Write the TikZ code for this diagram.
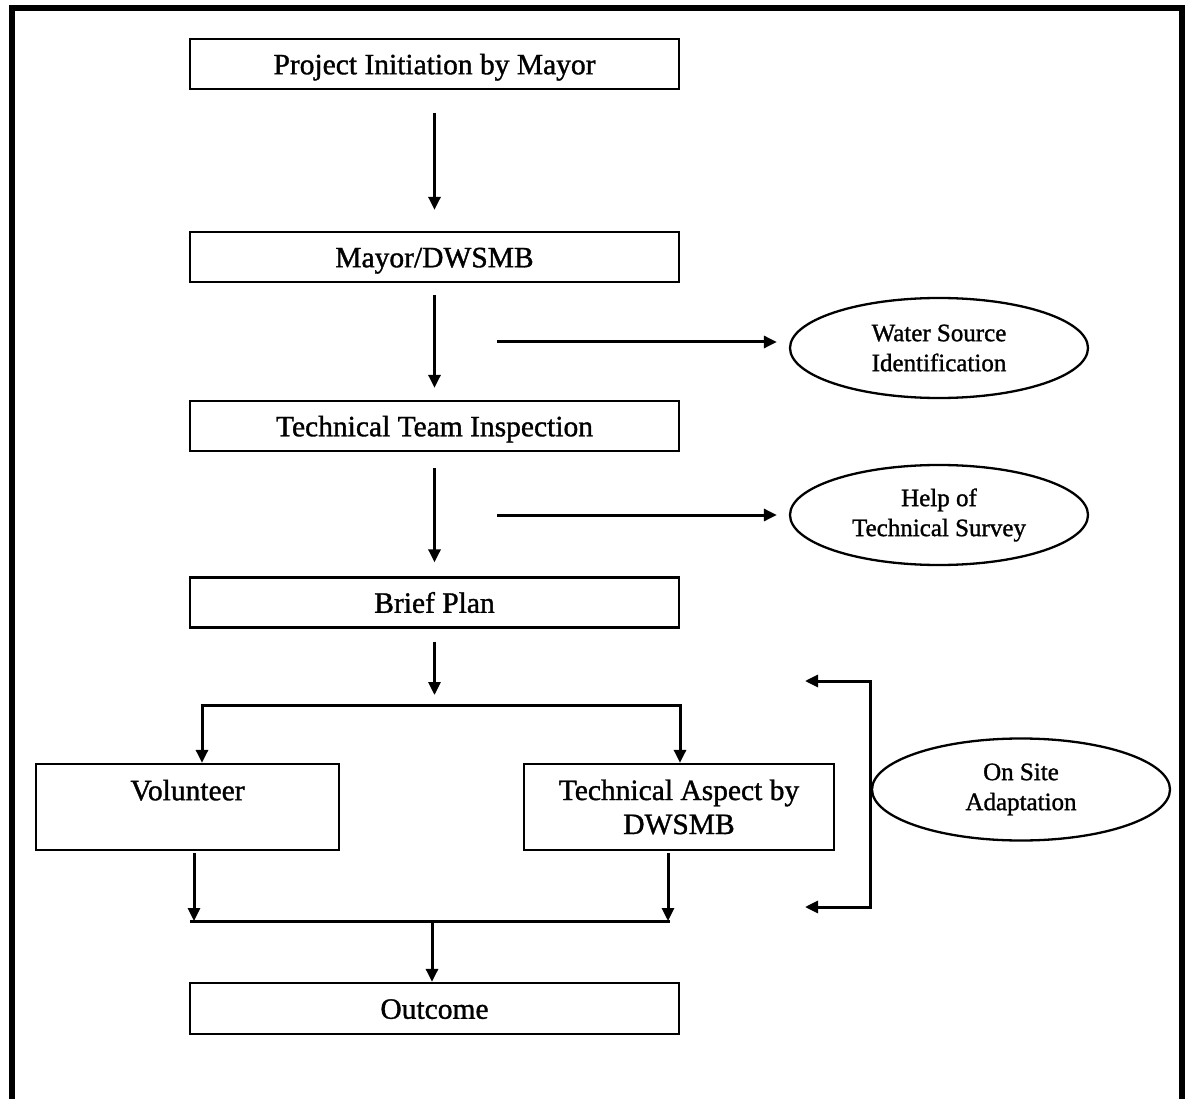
\documentclass[tikz,border=0pt]{standalone}
\usepackage{fontspec}
\setmainfont{Liberation Serif}[FakeBold=1.2]
\usetikzlibrary{arrows.meta,shapes.geometric}
\begin{document}
\begin{tikzpicture}[x=1pt,y=-1pt,
  box/.style={draw,line width=2.3pt,inner sep=0pt,align=center,font=\fontsize{29.5}{34}\selectfont},
  one/.style={text height=20.5pt,text depth=0pt},
  oval/.style={draw,ellipse,line width=2.3pt,inner sep=0pt,minimum width=298pt,minimum height=100pt,align=center,font=\fontsize{25}{30}\selectfont},
  tip/.tip={Triangle[length=13pt,width=12pt]},
  arr/.style={line width=3pt,-tip},
  ln/.style={line width=3pt}]
\useasboundingbox (0,0) rectangle (1187,1099);
% frame
\draw[line width=6pt,line join=miter] (12,1105) -- (12,8) -- (1182,8) -- (1182,1105);
% main boxes
\node[box,one,minimum width=489pt,minimum height=50pt] (p1) at (434.5,64) {Project Initiation by Mayor};
\node[box,one,minimum width=489pt,minimum height=50pt] (p2) at (434.5,257) {Mayor/DWSMB};
\node[box,one,minimum width=489pt,minimum height=50pt] (p3) at (434.5,426) {Technical Team Inspection};
\node[box,one,minimum width=489pt,minimum height=50pt] (p4) at (434.5,602.5) {Brief Plan};
\node[box,minimum width=303pt,minimum height=86pt] (vol) at (187.5,807) {Volunteer\\[0pt]\mbox{}};
\node[box,minimum width=310pt,minimum height=86pt] (tech) at (679,807) {Technical Aspect by\\DWSMB};
\node[box,one,minimum width=489pt,minimum height=51pt] (out) at (434.5,1008.5) {Outcome};
% ovals
\node[oval] (w) at (939,348) {Water Source\\Identification};
\node[oval] (h) at (939,515) {Help of\\Technical Survey};
\node[oval,minimum height=102pt] (os) at (1021,789.5) {On Site\\Adaptation};
% vertical flow
\draw[arr,shorten <=23pt,shorten >=21pt] (p1) -- (p2);
\draw[arr,shorten <=12pt,shorten >=12pt] (p2) -- (p3);
\draw[arr,shorten <=16pt,shorten >=14pt] (p3) -- (p4);
\coordinate (split) at (434.5,705);
\draw[arr,shorten <=13pt,shorten >=10pt] (p4) -- (split);
% split
\coordinate (sl) at (202,705);
\coordinate (sr) at (680,705);
\draw[ln] ([xshift=-1.5pt]sl) -- ([xshift=1.5pt]sr);
\draw[arr] (sl) -- (sl |- vol.north);
\draw[arr] (sr) -- (sr |- tech.north);
% join
\coordinate (jl) at (194,921);
\coordinate (jr) at (668,921);
\coordinate (jm) at (432,921);
\draw[arr,shorten <=2pt] (jl |- vol.south) -- (jl);
\draw[arr,shorten <=2pt] (jr |- tech.south) -- (jr);
\draw[ln] ([xshift=-4pt]jl) -- ([xshift=1.5pt]jr);
\draw[arr] (jm) -- (jm |- out.north);
% side arrows
\coordinate (a1) at (497,342);
\coordinate (a2) at (497,515);
\draw[arr,shorten >=12pt] (a1) -- (a1 -| w.west);
\draw[arr,shorten >=12pt] (a2) -- (a2 -| h.west);
% bracket
\coordinate (bt) at (870,681);
\coordinate (bb) at (870,907);
\coordinate (tl) at (805,681);
\coordinate (bl) at (805,907);
\draw[line width=3pt,tip-tip,line join=miter] (tl) -- (bt) -- (bb) -- (bl);
\end{tikzpicture}
\end{document}
